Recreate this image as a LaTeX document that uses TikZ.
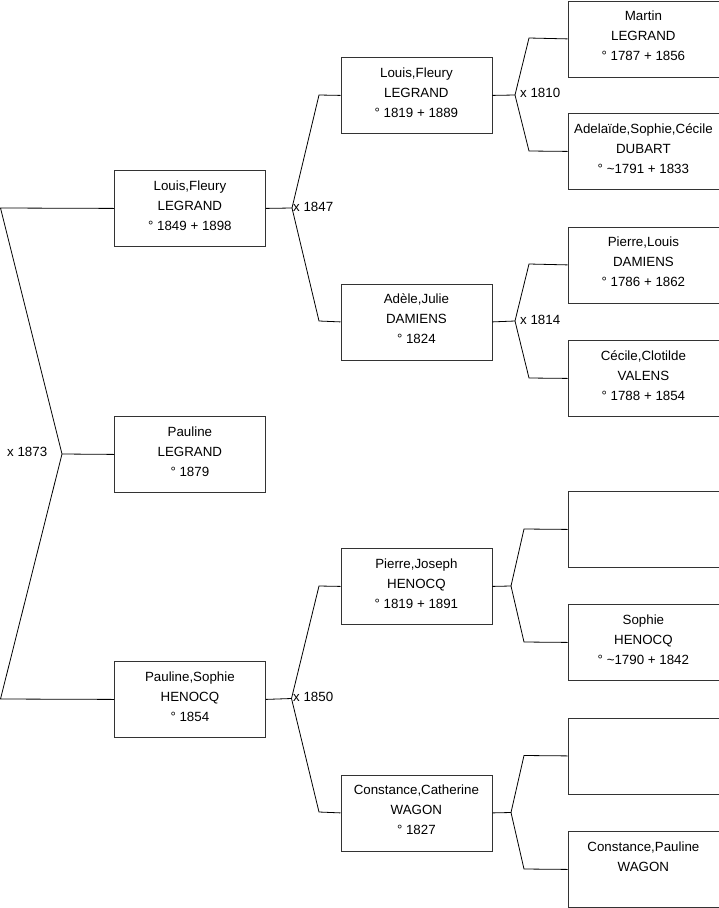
\documentclass[tikz,border=0pt]{standalone}
\usepackage{fontspec}
\setmainfont{Liberation Sans}
\begin{document}
\begin{tikzpicture}[x=1pt,y=-1pt,
  person/.style={draw=black!80, line width=0.8pt, minimum width=151pt, minimum height=76pt,
    inner sep=0pt, align=center, font=\fontsize{13.33}{20}\selectfont,
    execute at begin node=\strut, execute at end node=\strut, anchor=north west},
  link/.style={draw=black, line width=0.8pt},
  mlabel/.style={font=\fontsize{13.33}{16}\selectfont, inner sep=0pt, anchor=west}]
\useasboundingbox (0,0) rectangle (719,908);
% column 1
\node[person] (a) at (114,170) {Louis,Fleury\\LEGRAND\\° 1849 + 1898};
\node[person] (b) at (114,416) {Pauline\\LEGRAND\\° 1879};
\node[person] (c) at (114,661) {Pauline,Sophie\\HENOCQ\\° 1854};
% column 2
\node[person] (d) at (340.5,57) {Louis,Fleury\\LEGRAND\\° 1819 + 1889};
\node[person] (e) at (340.5,283.5) {Adèle,Julie\\DAMIENS\\° 1824};
\node[person] (f) at (340.5,548) {Pierre,Joseph\\HENOCQ\\° 1819 + 1891};
\node[person] (g) at (340.5,774.5) {Constance,Catherine\\WAGON\\° 1827};
% column 3
\node[person] (h) at (567.5,0.5) {Martin\\LEGRAND\\° 1787 + 1856};
\node[person] (i) at (567.5,113) {Adelaïde,Sophie,Cécile\\DUBART\\° \textasciitilde1791 + 1833};
\node[person] (j) at (567.5,226.5) {Pierre,Louis\\DAMIENS\\° 1786 + 1862};
\node[person] (k) at (567.5,340) {Cécile,Clotilde\\VALENS\\° 1788 + 1854};
\node[person] (l) at (567.5,491) {};
\node[person] (m) at (567.5,604) {Sophie\\HENOCQ\\° \textasciitilde1790 + 1842};
\node[person] (n) at (567.5,717.5) {};
\node[person] (o) at (567.5,831) {Constance,Pauline\\WAGON\\\mbox{}};
% root connectors
\coordinate (r1) at (0.5,208);
\coordinate (r2) at (0.5,699);
\coordinate (rv) at (62,454);
\draw[link] (a.west) -- (r1) -- (rv) -- (r2) -- (c.west);
\draw[link] (rv) -- (b.west);
\node[mlabel] (l1873) at (7,452) {x 1873};
% level 2
\coordinate (va) at (292,208);
\coordinate (vat) at (319,95);
\coordinate (vab) at (319,321);
\draw[link] (a.east) -- (va) -- (vat) -- (d.west);
\draw[link] (va) -- (vab) -- (e.west);
\node[mlabel] (l1847) at (293,207) {x 1847};
\coordinate (vc) at (291.5,698.5);
\coordinate (vct) at (319,586);
\coordinate (vcb) at (319,812);
\draw[link] (c.east) -- (vc) -- (vct) -- (f.west);
\draw[link] (vc) -- (vcb) -- (g.west);
\node[mlabel] (l1850) at (293,697) {x 1850};
% level 3
\coordinate (vd) at (515,95);
\coordinate (vdt) at (529,38);
\coordinate (vdb) at (529,151);
\draw[link] (d.east) -- (vd) -- (vdt) -- (h.west);
\draw[link] (vd) -- (vdb) -- (i.west);
\node[mlabel] (l1810) at (520,93) {x 1810};
\coordinate (ve) at (515,321);
\coordinate (vet) at (529,264);
\coordinate (veb) at (529,378);
\draw[link] (e.east) -- (ve) -- (vet) -- (j.west);
\draw[link] (ve) -- (veb) -- (k.west);
\node[mlabel] (l1814) at (520,320) {x 1814};
\coordinate (vf) at (511,586);
\coordinate (vft) at (524,529);
\coordinate (vfb) at (524,642);
\draw[link] (f.east) -- (vf) -- (vft) -- (l.west);
\draw[link] (vf) -- (vfb) -- (m.west);
\coordinate (vg) at (511,812.5);
\coordinate (vgt) at (524,755.5);
\coordinate (vgb) at (524,869);
\draw[link] (g.east) -- (vg) -- (vgt) -- (n.west);
\draw[link] (vg) -- (vgb) -- (o.west);
\end{tikzpicture}
\end{document}
